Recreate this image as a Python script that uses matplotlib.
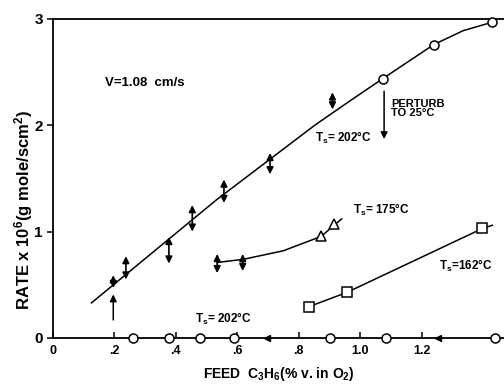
import matplotlib
matplotlib.use("Agg")
import matplotlib.pyplot as plt

plt.rcParams['font.family'] = ['Liberation Sans', 'DejaVu Sans']
plt.rcParams['mathtext.default'] = 'regular'

# Ts = 202 C main curve (line) and open circles
line202_x = [0.126, 0.533, 0.852, 0.967, 1.074, 1.24, 1.335, 1.43]
line202_y = [0.33, 1.30, 2.00, 2.23, 2.44, 2.76, 2.89, 2.97]
circ202_x = [1.074, 1.24, 1.43]
circ202_y = [2.44, 2.76, 2.97]

# double-headed arrows (oscillation ranges) on 202 C curve
osc202_x = [0.197, 0.238, 0.378, 0.454, 0.557, 0.707, 0.91]
osc202_lo = [0.47, 0.55, 0.70, 1.00, 1.27, 1.54, 2.15]
osc202_hi = [0.59, 0.77, 0.95, 1.25, 1.49, 1.74, 2.31]

# single up arrow and perturb arrow
up_x, up_lo, up_hi = 0.197, 0.17, 0.41
pert_x, pert_hi, pert_lo = 1.078, 2.32, 1.87

# Ts = 175 C
line175_x = [0.535, 0.62, 0.75, 0.873, 0.94]
line175_y = [0.71, 0.74, 0.82, 0.955, 1.12]
tri175_x = [0.873, 0.915]
tri175_y = [0.955, 1.07]
osc175_x = [0.535, 0.618]
osc175_lo = [0.61, 0.63]
osc175_hi = [0.79, 0.79]

# Ts = 162 C
sq162_x = [0.834, 0.958, 1.398]
sq162_y = [0.295, 0.43, 1.03]
line162_x = [0.834, 0.958, 1.398, 1.43]
line162_y = [0.295, 0.43, 1.03, 1.06]

# Ts = 202 C zero-rate branch
zero_x = [0.26, 0.377, 0.48, 0.59, 0.903, 1.083, 1.44]
zero_y = [0, 0, 0, 0, 0, 0, 0]
zero_arrow_x = [0.696, 1.253]

xticks = [0, 0.2, 0.4, 0.6, 0.8, 1.0, 1.2]
xticklabels = ['0', '.2', '.4', '.6', '.8', '1.0', '1.2']
yticks = [0, 1, 2, 3]
yticklabels = ['0', '1', '2', '3']

fig = plt.figure(figsize=(5.04, 3.86), dpi=100)
ax = fig.add_axes([0.1046, 0.1244, 0.8954, 0.8264])
ax.set_xlim(0, 1.468)
ax.set_ylim(0, 3)
ax.spines['right'].set_visible(False)
for s in ['left', 'bottom', 'top']:
    ax.spines[s].set_linewidth(1.3)

lw = 1.1
ax.plot(line202_x, line202_y, color='black', lw=lw)
ax.plot(circ202_x, circ202_y, 'o', mfc='white', mec='black', ms=6.5, mew=1.1, clip_on=False, zorder=5)

ax.plot(line175_x, line175_y, color='black', lw=lw)
ax.plot(tri175_x, tri175_y, '^', mfc='white', mec='black', ms=6.5, mew=1.1, zorder=5)

ax.plot(line162_x, line162_y, color='black', lw=lw)
ax.plot(sq162_x, sq162_y, 's', mfc='white', mec='black', ms=6.5, mew=1.1, zorder=5)

ax.plot(zero_x, zero_y, 'o', mfc='white', mec='black', ms=6.5, mew=1.1, clip_on=False, zorder=5)
ax.plot(zero_arrow_x, [0] * len(zero_arrow_x), '<', color='black', ms=4, clip_on=False, zorder=5)

dbl = dict(arrowstyle='<|-|>,head_length=0.4,head_width=0.2', color='black', lw=1.2,
           shrinkA=0, shrinkB=0)
for x, lo, hi in zip(osc202_x + osc175_x, osc202_lo + osc175_lo, osc202_hi + osc175_hi):
    ax.annotate('', xy=(x, hi), xytext=(x, lo), arrowprops=dbl)

sgl = dict(arrowstyle='-|>,head_length=0.4,head_width=0.2', color='black', lw=1.1,
           shrinkA=0, shrinkB=0)
ax.annotate('', xy=(up_x, up_hi), xytext=(up_x, up_lo), arrowprops=sgl)
ax.annotate('', xy=(pert_x, pert_lo), xytext=(pert_x, pert_hi), arrowprops=sgl)

tk = dict(fontsize=8.5, fontweight='bold')
ax.text(0.17, 2.4, 'V=1.08  cm/s', ha='left', va='center', fontsize=9.5, fontweight='bold')
ax.text(1.10, 2.16, 'PERTURB\nTO 25°C', ha='left', va='center', linespacing=0.85,
        fontsize=8, fontweight='bold')
ax.text(0.853, 1.88, 'T$_s$= 202°C', ha='left', va='center', **tk)
ax.text(0.977, 1.20, 'T$_s$= 175°C', ha='left', va='center', **tk)
ax.text(1.256, 0.68, 'T$_s$=162°C', ha='left', va='center', **tk)
ax.text(0.463, 0.18, 'T$_s$= 202°C', ha='left', va='center', **tk)

ax.set_xticks(xticks)
ax.set_xticklabels(xticklabels, fontsize=9, fontweight='bold')
ax.set_yticks(yticks)
ax.set_yticklabels(yticklabels, fontsize=11, fontweight='bold')
ax.tick_params(axis='x', direction='in', length=4, width=1.1, pad=5)
ax.tick_params(axis='y', direction='out', length=4, width=1.1, pad=3)

ax.set_xlabel('FEED  C$_3$H$_6$(% v. in O$_2$)', fontsize=10, fontweight='bold', labelpad=6)
ax.set_ylabel('RATE x 10$^6$(g mole/scm$^2$)', fontsize=12, fontweight='bold')
ax.yaxis.set_label_coords(-0.039, 0.40)

fig.savefig('out.png', dpi=100)
